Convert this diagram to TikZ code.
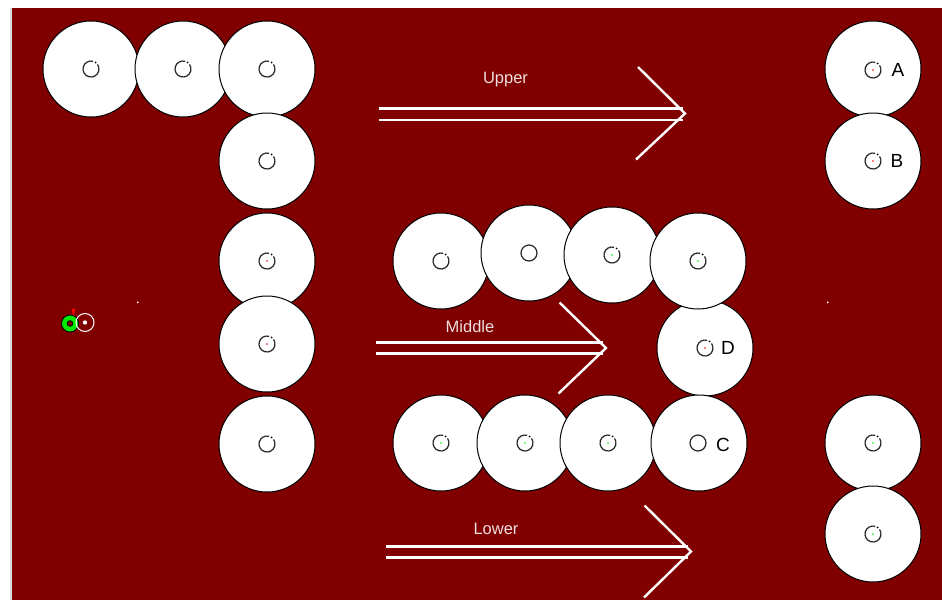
\documentclass[tikz,border=0pt]{standalone}
\usepackage{fontspec}
\setmainfont{Liberation Sans}
\definecolor{bgred}{RGB}{128,0,0}
\definecolor{lbl}{RGB}{238,222,222}
\definecolor{grn}{RGB}{0,235,0}
\begin{document}
\begin{tikzpicture}[x=1pt,y=-1pt,
  disc/.style={circle,minimum size=96pt,inner sep=0pt,fill=white,draw=black,line width=1pt},
  letter/.style={font=\fontsize{19}{19}\selectfont,text=black,inner sep=0pt},
  lab/.style={font=\fontsize{16.5}{17}\selectfont,text=lbl,inner sep=0pt},
  arr/.style={draw=white,line width=2.4pt},
  ico/.pic={\draw[line width=1.2pt,black!85] (-75:8) arc (-75:-395:8); \fill[black] (-55:8) circle (1);},
  icofull/.pic={\draw[line width=1.2pt,black!85] (0,0) circle (8);}
]
\useasboundingbox (0,0) rectangle (942,600);
\fill[white] (0,0) rectangle (942,600);
\fill[black!14] (9.5,8) rectangle (12,600);
\fill[bgred] (12,8) rectangle (942,600);

% top row and column
\node[disc] (t1) at (91,69) {};
\node[disc] (t2) at (183,69) {};
\node[disc] (t3) at (267,69) {};
\node[disc] (k1) at (267,161) {};
\node[disc] (k2) at (267,261) {};
\node[disc] (k3) at (267,344) {};
\node[disc] (k4) at (267,444) {};
% right column
\node[disc] (ra) at (873,69) {};
\node[disc] (rb) at (873,161) {};
\node[disc] (r3) at (873,443) {};
\node[disc] (r4) at (873,534) {};
% D under middle row
\node[disc] (md) at (705,348) {};
% middle row
\node[disc] (m1) at (441,261) {};
\node[disc] (m2) at (529,253) {};
\node[disc] (m3) at (612,255) {};
\node[disc] (m4) at (698,261) {};
% lower row
\node[disc] (l1) at (441,443) {};
\node[disc] (l2) at (525,443) {};
\node[disc] (l3) at (608,443) {};
\node[disc] (lc) at (699,443) {};

% icons
\foreach \p in {(91,69),(183,69),(267,69),(267,161),(267,261),(267,344),(267,444),
  (873,70),(873,161),(873,443),(873,534),(705,348),(441,261),(612,255),(698,261),
  (441,443),(525,443),(608,443)}
  \pic at \p {ico};
\pic at (529,253) {icofull};
\pic at (698,443) {icofull};
\foreach \p in {(873,70),(873,161),(705,348),(267,261),(267,344)}
  \fill[red] \p circle (0.9);
\foreach \p in {(612,255),(698,261),(441,443),(525,443),(608,443),(873,443),(873,534)}
  \fill[grn] \p circle (0.9);

% letters
\node[letter] (la) at (898,70) {A};
\node[letter] (lb) at (897,161) {B};
\node[letter] (ld) at (728,348) {D};
\node[letter] (lcc) at (723,445) {C};

% arrows
\draw[arr] (379,108.5) -- (683,108.5);
\draw[arr] (379,120) -- (683,120);
\draw[arr] (638,67) -- (685,113.5) -- (636,159.5);
\node[lab] (upper) at (505.5,80) {Upper};

\draw[arr] (376,342.5) -- (603,342.5);
\draw[arr] (376,353.5) -- (603,353.5);
\draw[arr] (559.5,302.5) -- (606,348) -- (558.5,393.5);
\node[lab] (middle) at (470,327) {Middle};

\draw[arr] (385.5,546.5) -- (688,546.5);
\draw[arr] (385.5,557.5) -- (688,557.5);
\draw[arr] (644.5,505.5) -- (691,551.5) -- (644,597.5);
\node[lab] (lower) at (496,529) {Lower};

% small markers
\filldraw[draw=black,fill=grn,line width=0.8pt] (70,323.5) circle (8.5);
\filldraw[draw=black,fill=bgred,line width=0.8pt] (70,323.5) circle (2.8);
\fill[red] (71.5,309) -- (75.5,308.5) -- (73.5,316) -- cycle;
\draw[white,line width=1pt] (85,322.5) circle (9);
\fill[white] (85,322.5) circle (2.2);
\fill[white] (137.7,302.3) circle (1);
\fill[white] (827.7,302.3) circle (1);
\end{tikzpicture}
\end{document}
